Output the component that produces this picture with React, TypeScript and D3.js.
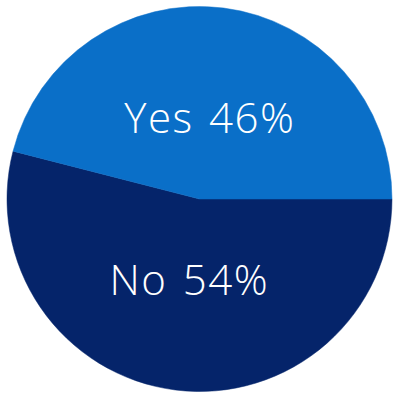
import React from 'react';
import * as d3 from 'd3';

// Data for the chart
const categories = ['No', 'Yes'];
const values = [54, 46];
const colors = ['#05246a', '#0a6fc8'];

const App = () => {
  const width = 400;
  const height = 400;
  const cx = 199.5;
  const cy = 199;
  const radius = 192.5;

  const data = categories.map((c, i) => ({ category: c, value: values[i] }));

  // No starts at 3 o'clock and runs clockwise
  const pie = d3.pie<{ category: string; value: number }>()
    .value(d => d.value)
    .sort(null)
    .startAngle(Math.PI / 2)
    .endAngle(Math.PI / 2 + 2 * Math.PI);

  const arcs = pie(data);
  const arc = d3.arc<d3.PieArcDatum<{ category: string; value: number }>>()
    .innerRadius(0)
    .outerRadius(radius);
  const labelArc = d3.arc<d3.PieArcDatum<{ category: string; value: number }>>()
    .innerRadius(82)
    .outerRadius(82);

  return (
    <svg
      width={width}
      height={height}
      style={{ position: 'absolute', left: 0, top: 0 }}
      viewBox={`0 0 ${width} ${height}`}
    >
      <rect width={width} height={height} fill="#ffffff" />
      <g transform={`translate(${cx},${cy})`}>
        {arcs.map((a, i) => (
          <path
            key={a.data.category}
            d={arc(a) as string}
            fill={colors[i]}
            stroke={colors[i]}
            strokeWidth={0.5}
          />
        ))}
        {arcs.map(a => {
          const [x, y] = labelArc.centroid(a);
          return (
            <text
              key={`l-${a.data.category}`}
              x={x}
              y={y}
              dy="0.36em"
              textAnchor="middle"
              fill="#ffffff"
              fontFamily="'Open Sans', sans-serif"
              fontWeight={300}
              fontSize={42}
              letterSpacing={1.5}
              wordSpacing={3}
            >
              {`${a.data.category} ${a.data.value}%`}
            </text>
          );
        })}
      </g>
    </svg>
  );
};

export default App;
